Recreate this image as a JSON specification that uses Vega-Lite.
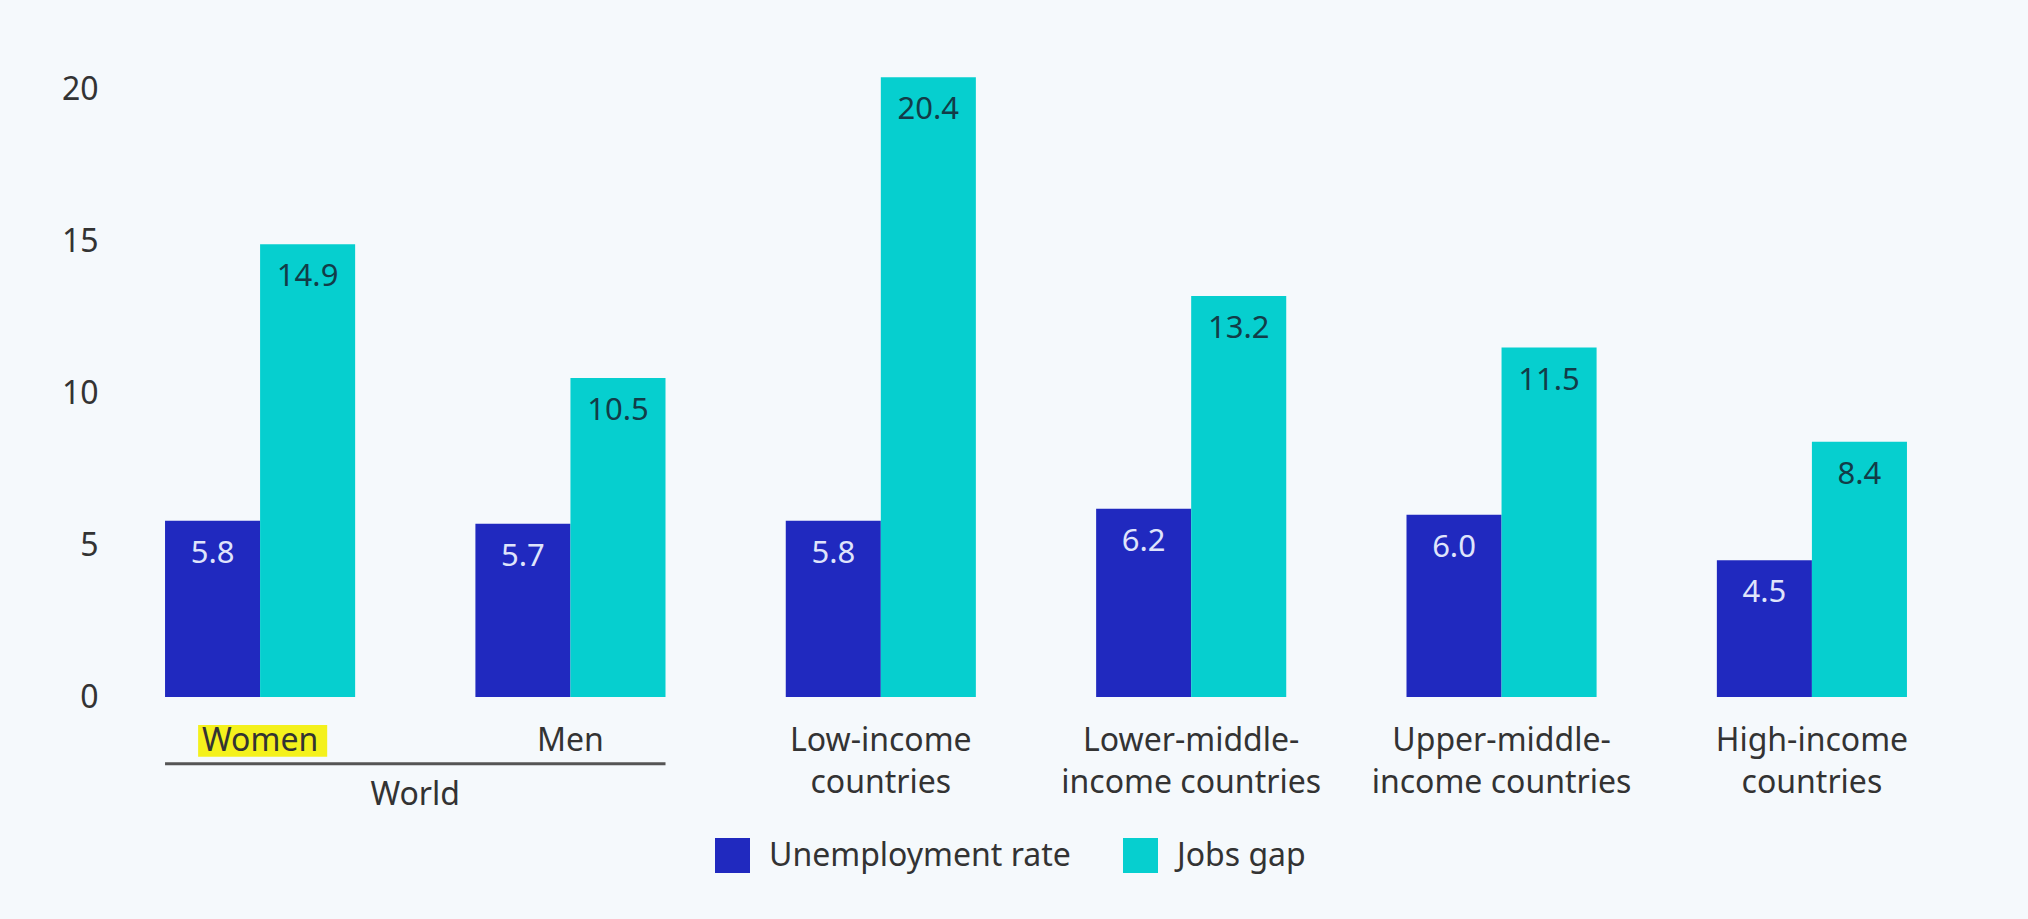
{
  "$schema": "https://vega.github.io/schema/vega-lite/v6.json",
  "width": 1822,
  "height": 638,
  "autosize": {"type": "none"},
  "padding": {"left": 125, "top": 59, "right": 81, "bottom": 222},
  "background": "#f5f9fc",
  "config": {"view": {"stroke": null}, "font": "Noto Sans"},
  "datasets": {
    "bars": [
      {"group": "Women", "series": "Unemployment rate", "value": 5.8},
      {"group": "Women", "series": "Jobs gap", "value": 14.9},
      {"group": "Men", "series": "Unemployment rate", "value": 5.7},
      {"group": "Men", "series": "Jobs gap", "value": 10.5},
      {"group": "Low-income countries", "series": "Unemployment rate", "value": 5.8},
      {"group": "Low-income countries", "series": "Jobs gap", "value": 20.4},
      {"group": "Lower-middle-income countries", "series": "Unemployment rate", "value": 6.2},
      {"group": "Lower-middle-income countries", "series": "Jobs gap", "value": 13.2},
      {"group": "Upper-middle-income countries", "series": "Unemployment rate", "value": 6.0},
      {"group": "Upper-middle-income countries", "series": "Jobs gap", "value": 11.5},
      {"group": "High-income countries", "series": "Unemployment rate", "value": 4.5},
      {"group": "High-income countries", "series": "Jobs gap", "value": 8.4}
    ],
    "world": [{"a": "Women", "b": "Men", "name": "World"}]
  },
  "layer": [
    {
      "data": {"name": "world"},
      "mark": {"type": "rect", "color": "#f4f11c"},
      "encoding": {
        "x": {"field": "a", "type": "nominal", "bandPosition": 0.174, "title": null},
        "x2": {"field": "a", "bandPosition": 0.853},
        "y": {"datum": -0.92, "type": "quantitative", "title": null},
        "y2": {"datum": -1.97}
      }
    },
    {
      "data": {"name": "bars"},
      "mark": {"type": "bar"},
      "encoding": {
        "x": {
          "field": "group", "type": "nominal", "title": null,
          "scale": {"domain": ["Women", "Men", "Low-income countries", "Lower-middle-income countries", "Upper-middle-income countries", "High-income countries"], "paddingInner": 0.3875, "paddingOuter": 0.129},
          "axis": {
            "title": null, "domain": false, "ticks": false, "labelAngle": 0, "bandPosition": 0.5,
            "labelAlign": "center",
            "labelFontSize": 32, "labelColor": "#333333", "labelPadding": 43,
            "labelLineHeight": 42, "labelLimit": 500, "labelOverlap": false, "zindex": 1,
            "labelExpr": "datum.value == 'Women' || datum.value == 'Men' ? datum.value : (indexof(datum.value, 'middle') >= 0 ? [slice(datum.value, 0, 13), slice(datum.value, 13)] : split(datum.value, ' '))"
          }
        },
        "xOffset": {"field": "series", "type": "nominal", "scale": {"domain": ["Unemployment rate", "Jobs gap"], "paddingInner": 0, "paddingOuter": 0}},
        "y": {
          "field": "value", "type": "quantitative", "title": null,
          "scale": {"domain": [0, 21], "nice": false, "zero": true},
          "axis": {
            "title": null, "domain": false, "ticks": false, "values": [0, 5, 10, 15, 20],
            "labelFontSize": 32, "labelColor": "#333333", "labelPadding": 27,
            "gridColor": "#ffffff", "gridWidth": 3, "zindex": 0
          }
        },
        "color": {
          "field": "series", "type": "nominal",
          "scale": {"domain": ["Unemployment rate", "Jobs gap"], "range": ["#2029bf", "#06cfcf"]},
          "legend": {
            "title": null, "orient": "none", "legendX": 590, "legendY": 779, "direction": "horizontal",
            "symbolType": "square", "symbolSize": 1225, "symbolStrokeWidth": 0,
            "labelFontSize": 32, "labelColor": "#333333", "labelOffset": 19, "columnPadding": 52,
            "labelLimit": 500
          }
        }
      }
    },
    {
      "data": {"name": "bars"},
      "mark": {"type": "text", "baseline": "alphabetic", "dy": 42, "fontSize": 31, "align": "center"},
      "encoding": {
        "x": {"field": "group", "type": "nominal", "title": null},
        "xOffset": {"field": "series", "type": "nominal"},
        "y": {"field": "value", "type": "quantitative", "title": null},
        "text": {"field": "value", "type": "quantitative", "format": ".1f"},
        "color": {"condition": {"test": "datum.series == 'Jobs gap'", "value": "#123c48"}, "value": "#dfe4fb"}
      }
    },
    {
      "data": {"name": "world"},
      "mark": {"type": "rule", "color": "#555555", "strokeWidth": 3},
      "encoding": {
        "x": {"field": "a", "type": "nominal", "bandPosition": 0, "title": null},
        "x2": {"field": "b", "bandPosition": 1},
        "y": {"datum": -2.2, "type": "quantitative", "title": null}
      }
    },
    {
      "data": {"name": "world"},
      "mark": {"type": "text", "baseline": "alphabetic", "fontSize": 32, "color": "#333333", "align": "center"},
      "encoding": {
        "x": {"field": "a", "type": "nominal", "bandPosition": 1.316, "title": null},
        "y": {"datum": -3.55, "type": "quantitative", "title": null},
        "text": {"field": "name"}
      }
    }
  ]
}
